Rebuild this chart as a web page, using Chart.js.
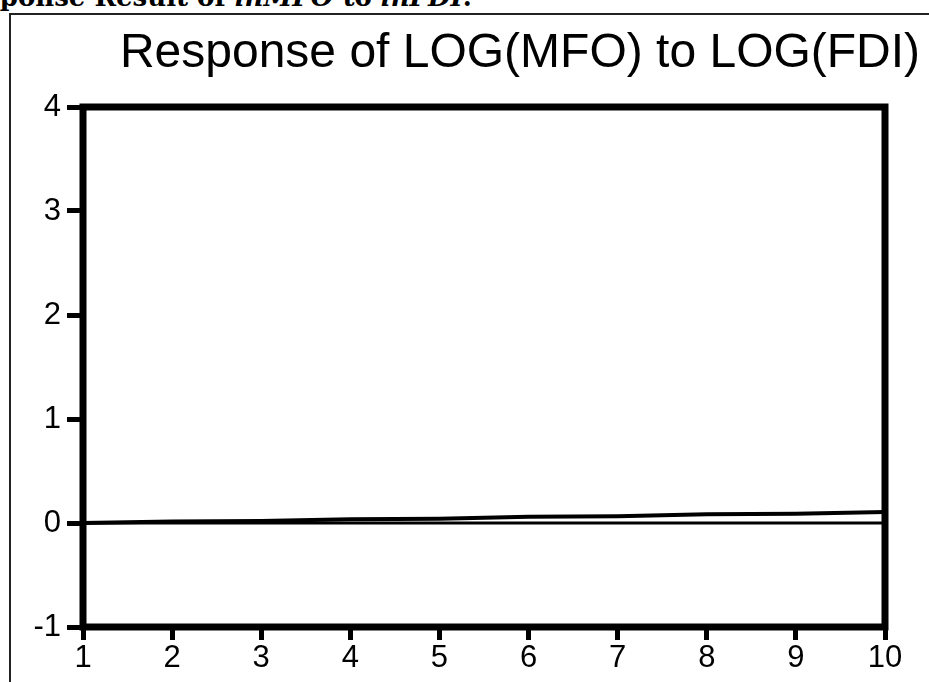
<!DOCTYPE html>
<html>
<head>
<meta charset="utf-8">
<script src="https://cdn.jsdelivr.net/npm/chart.js@4.4.1/dist/chart.umd.min.js"></script>
<style>
  body { margin: 0; background: #fff; overflow: hidden; }
  #wrap { position: relative; width: 929px; height: 682px; overflow: hidden; }
  #caption {
    position: absolute; left: -53px; top: -16px; white-space: nowrap; line-height: 26px;
    font-family: "DejaVu Serif", serif; font-weight: bold; font-size: 26px; color: #000;
  }
  #frame {
    position: absolute; left: 9px; top: 13px; width: 1000px; height: 800px;
    border: 2px solid #222;
  }
  canvas { position: absolute; left: 0; top: 0; }
</style>
</head>
<body>
<div id="wrap">
  <div id="caption">Response Result of <i>lnMFO</i> to <i>lnFDI</i>.</div>
  <div id="frame"></div>
  <canvas id="chart" width="929" height="682"></canvas>
</div>
<script>
"use strict";

const periods = ["1", "2", "3", "4", "5", "6", "7", "8", "9", "10"];
const response_values = [0, 0.015, 0.02, 0.035, 0.04, 0.06, 0.065, 0.085, 0.09, 0.105];
const zero_values = [0, 0, 0, 0, 0, 0, 0, 0, 0, 0];
const y_ticks = [-1, 0, 1, 2, 3, 4];
const chart_title = "Response of LOG(MFO) to LOG(FDI)";

// box around the plot and the big title
const frame_plugin = {
  id: "frame_plugin",
  afterDatasetsDraw(chart) {
    const { ctx, chartArea } = chart;
    ctx.save();
    ctx.strokeStyle = "#000";
    ctx.lineWidth = 7;
    ctx.lineJoin = "miter";
    ctx.strokeRect(chartArea.left, chartArea.top, chartArea.right - chartArea.left, chartArea.bottom - chartArea.top);
    ctx.restore();
  },
  afterDraw(chart) {
    const { ctx } = chart;
    ctx.save();
    ctx.fillStyle = "#000";
    ctx.font = "48px 'Liberation Sans', Arial, sans-serif";
    ctx.textAlign = "center";
    ctx.textBaseline = "alphabetic";
    ctx.fillText(chart_title, 520, 67);
    ctx.restore();
  },
};

const config = {
  type: "line",
  data: {
    labels: periods,
    datasets: [
      {
        label: "response",
        data: response_values,
        borderColor: "#000",
        borderWidth: 4,
        pointRadius: 0,
        tension: 0,
      },
      {
        label: "zero",
        data: zero_values,
        borderColor: "#000",
        borderWidth: 3,
        pointRadius: 0,
      },
    ],
  },
  options: {
    responsive: false,
    animation: false,
    layout: { padding: { left: 0, right: 44, top: 107, bottom: 0 } },
    plugins: {
      legend: { display: false },
      title: { display: false },
      tooltip: { enabled: false },
    },
    scales: {
      x: {
        type: "category",
        offset: false,
        border: { display: false },
        grid: { drawOnChartArea: false, drawTicks: true, tickLength: 13, lineWidth: 5, color: "#000" },
        ticks: {
          color: "#000",
          padding: 0,
          maxRotation: 0,
          autoSkip: false,
          font: { family: "'Liberation Sans', Arial, sans-serif", size: 31 },
        },
        afterFit(scale) {
          scale.height = 55;
        },
      },
      y: {
        min: -1,
        max: 4,
        border: { display: false },
        grid: { drawOnChartArea: false, drawTicks: true, tickLength: 16, lineWidth: 5, color: "#000" },
        afterBuildTicks(scale) {
          scale.ticks = y_ticks.map((v) => ({ value: v }));
        },
        ticks: {
          color: "#000",
          padding: 6,
          font: { family: "'Liberation Sans', Arial, sans-serif", size: 31 },
        },
        afterFit(scale) {
          scale.width = 83;
        },
      },
    },
  },
  plugins: [frame_plugin],
};

new Chart(document.getElementById("chart"), config);
</script>
</body>
</html>
